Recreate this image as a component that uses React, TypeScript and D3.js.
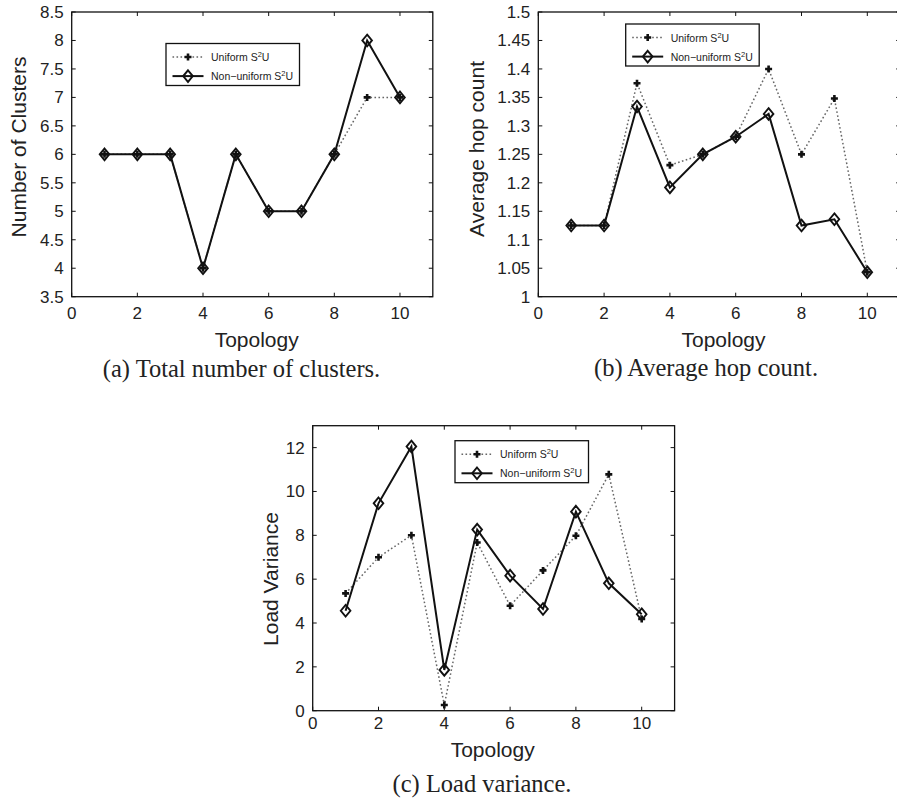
import React from 'react';
import * as d3 from 'd3';

const topology = [1, 2, 3, 4, 5, 6, 7, 8, 9, 10];
const xTicks = [0, 2, 4, 6, 8, 10];

const clustersUniform = [6, 6, 6, 4, 6, 5, 5, 6, 7, 7];
const clustersNonUniform = [6, 6, 6, 4, 6, 5, 5, 6, 8, 7];
const clustersTicks = [3.5, 4, 4.5, 5, 5.5, 6, 6.5, 7, 7.5, 8, 8.5];

const hopUniform = [1.125, 1.125, 1.375, 1.231, 1.25, 1.281, 1.4, 1.25, 1.348, 1.043];
const hopNonUniform = [1.125, 1.125, 1.334, 1.192, 1.25, 1.281, 1.321, 1.125, 1.136, 1.043];
const hopTicks = [1, 1.05, 1.1, 1.15, 1.2, 1.25, 1.3, 1.35, 1.4, 1.45, 1.5];

const varUniform = [5.35, 7.0, 8.0, 0.26, 7.67, 4.79, 6.4, 7.98, 10.78, 4.18];
const varNonUniform = [4.56, 9.46, 12.05, 1.86, 8.26, 6.16, 4.64, 9.08, 5.81, 4.4];
const varTicks = [0, 2, 4, 6, 8, 10, 12];

const seriesNames = ['Uniform S', 'Non\u2212uniform S'];

const SANS = '"Liberation Sans", Arial, Helvetica, sans-serif';
const SERIF = '"Liberation Serif", "Times New Roman", serif';

type PanelProps = {
  left: number; right: number; top: number; bottom: number;
  yDomain: [number, number];
  yTicks: number[];
  uniform: number[];
  nonUniform: number[];
  yLabel: string;
  yLabelX: number; yLabelY: number;
  xLabelX: number; xLabelY: number;
  tickLabelY: number;
  legendX: number; legendY: number;
  caption: string; captionX: number; captionY: number;
};

function Plus({ x, y }: { x: number; y: number }) {
  const s = 3.5;
  return (
    <path d={`M${x - s},${y}H${x + s}M${x},${y - s}V${y + s}`} stroke="#111" strokeWidth={2.6} fill="none" />
  );
}

function Diamond({ x, y }: { x: number; y: number }) {
  const w = 4.8, h = 5.8;
  return (
    <path d={`M${x},${y - h}L${x + w},${y}L${x},${y + h}L${x - w},${y}Z`} stroke="#111" strokeWidth={1.9} fill="none" />
  );
}

function LegendLabel({ x, y, name }: { x: number; y: number; name: string }) {
  return (
    <text x={x} y={y} fontFamily={SANS} fontSize={10.5} fill="#222">
      <tspan>{name}</tspan>
      <tspan dy={-4} fontSize={7.5}>2</tspan>
      <tspan dy={4}>U</tspan>
    </text>
  );
}

function Panel(p: PanelProps) {
  const x = d3.scaleLinear().domain([0, 11]).range([p.left, p.right]);
  const y = d3.scaleLinear().domain(p.yDomain).range([p.bottom, p.top]);
  const line = d3.line<number>().x((_, i) => x(topology[i])).y((d) => y(d));
  const tl = 4;
  const lx = p.legendX, ly = p.legendY;
  const r1 = ly + 13.5, r2 = ly + 32.6;
  return (
    <g>
      {/* data */}
      <path d={line(p.uniform) || ''} fill="none" stroke="#666" strokeWidth={1.5} strokeDasharray="1.6,2.4" />
      {p.uniform.map((v, i) => <Plus key={'u' + i} x={x(topology[i])} y={y(v)} />)}
      <path d={line(p.nonUniform) || ''} fill="none" stroke="#111" strokeWidth={2} strokeLinejoin="miter" />
      {p.nonUniform.map((v, i) => <Diamond key={'n' + i} x={x(topology[i])} y={y(v)} />)}
      {/* frame */}
      <rect x={p.left} y={p.top} width={p.right - p.left} height={p.bottom - p.top} fill="none" stroke="#111" strokeWidth={1.3} />
      {xTicks.map((t) => (
        <g key={'xt' + t}>
          <line x1={x(t)} x2={x(t)} y1={p.bottom} y2={p.bottom - tl} stroke="#111" strokeWidth={1} />
          <line x1={x(t)} x2={x(t)} y1={p.top} y2={p.top + tl} stroke="#111" strokeWidth={1} />
          <text x={x(t)} y={p.tickLabelY} textAnchor="middle" fontFamily={SANS} fontSize={17} fill="#222">{t}</text>
        </g>
      ))}
      {p.yTicks.map((t) => (
        <g key={'yt' + t}>
          <line x1={p.left} x2={p.left + tl} y1={y(t)} y2={y(t)} stroke="#111" strokeWidth={1} />
          <line x1={p.right} x2={p.right - tl} y1={y(t)} y2={y(t)} stroke="#111" strokeWidth={1} />
          <text x={p.left - 8} y={y(t) + 6} textAnchor="end" fontFamily={SANS} fontSize={17} fill="#222">{String(t)}</text>
        </g>
      ))}
      <text transform={`translate(${p.yLabelX},${p.yLabelY}) rotate(-90)`} textAnchor="middle" fontFamily={SANS} fontSize={21} fill="#222">{p.yLabel}</text>
      <text x={p.xLabelX} y={p.xLabelY} textAnchor="middle" fontFamily={SANS} fontSize={21} fill="#222">Topology</text>
      <text x={p.captionX} y={p.captionY} textAnchor="middle" fontFamily={SERIF} fontSize={24.5} fill="#222">{p.caption}</text>
      {/* legend */}
      <rect x={lx} y={ly} width={133.5} height={42} fill="#fff" stroke="#111" strokeWidth={1.3} />
      <line x1={lx + 6.5} x2={lx + 37.5} y1={r1} y2={r1} stroke="#666" strokeWidth={1.5} strokeDasharray="1.6,2.4" />
      <Plus x={lx + 22} y={r1} />
      <LegendLabel x={lx + 45} y={r1 + 4} name={seriesNames[0]} />
      <line x1={lx + 6.5} x2={lx + 37.5} y1={r2} y2={r2} stroke="#111" strokeWidth={2} />
      <Diamond x={lx + 22} y={r2} />
      <LegendLabel x={lx + 45} y={r2 + 4} name={seriesNames[1]} />
    </g>
  );
}

export default function App() {
  return (
    <svg width={897} height={800} style={{ position: 'absolute', left: 0, top: 0, background: '#fff' }}>
      <rect x={0} y={0} width={897} height={800} fill="#fff" />
      <Panel
        left={71.7} right={432.8} top={12} bottom={296.7}
        yDomain={[3.5, 8.5]} yTicks={clustersTicks}
        uniform={clustersUniform} nonUniform={clustersNonUniform}
        yLabel="Number of Clusters" yLabelX={26} yLabelY={147}
        xLabelX={256.7} xLabelY={346.7} tickLabelY={319.3}
        legendX={166} legendY={43.5}
        caption="(a) Total number of clusters." captionX={241.5} captionY={377}
      />
      <Panel
        left={538.3} right={900.2} top={12} bottom={296.7}
        yDomain={[1, 1.5]} yTicks={hopTicks}
        uniform={hopUniform} nonUniform={hopNonUniform}
        yLabel="Average hop count" yLabelX={484} yLabelY={149}
        xLabelX={723.5} xLabelY={346.7} tickLabelY={319.3}
        legendX={625.7} legendY={24}
        caption="(b) Average hop count." captionX={706} captionY={376}
      />
      <Panel
        left={312.7} right={674.6} top={425.7} bottom={710.7}
        yDomain={[0, 13]} yTicks={varTicks}
        uniform={varUniform} nonUniform={varNonUniform}
        yLabel="Load Variance" yLabelX={278} yLabelY={579}
        xLabelX={492.7} xLabelY={756.7} tickLabelY={729}
        legendX={455} legendY={440.7}
        caption="(c) Load variance." captionX={482} captionY={791.5}
      />
    </svg>
  );
}
